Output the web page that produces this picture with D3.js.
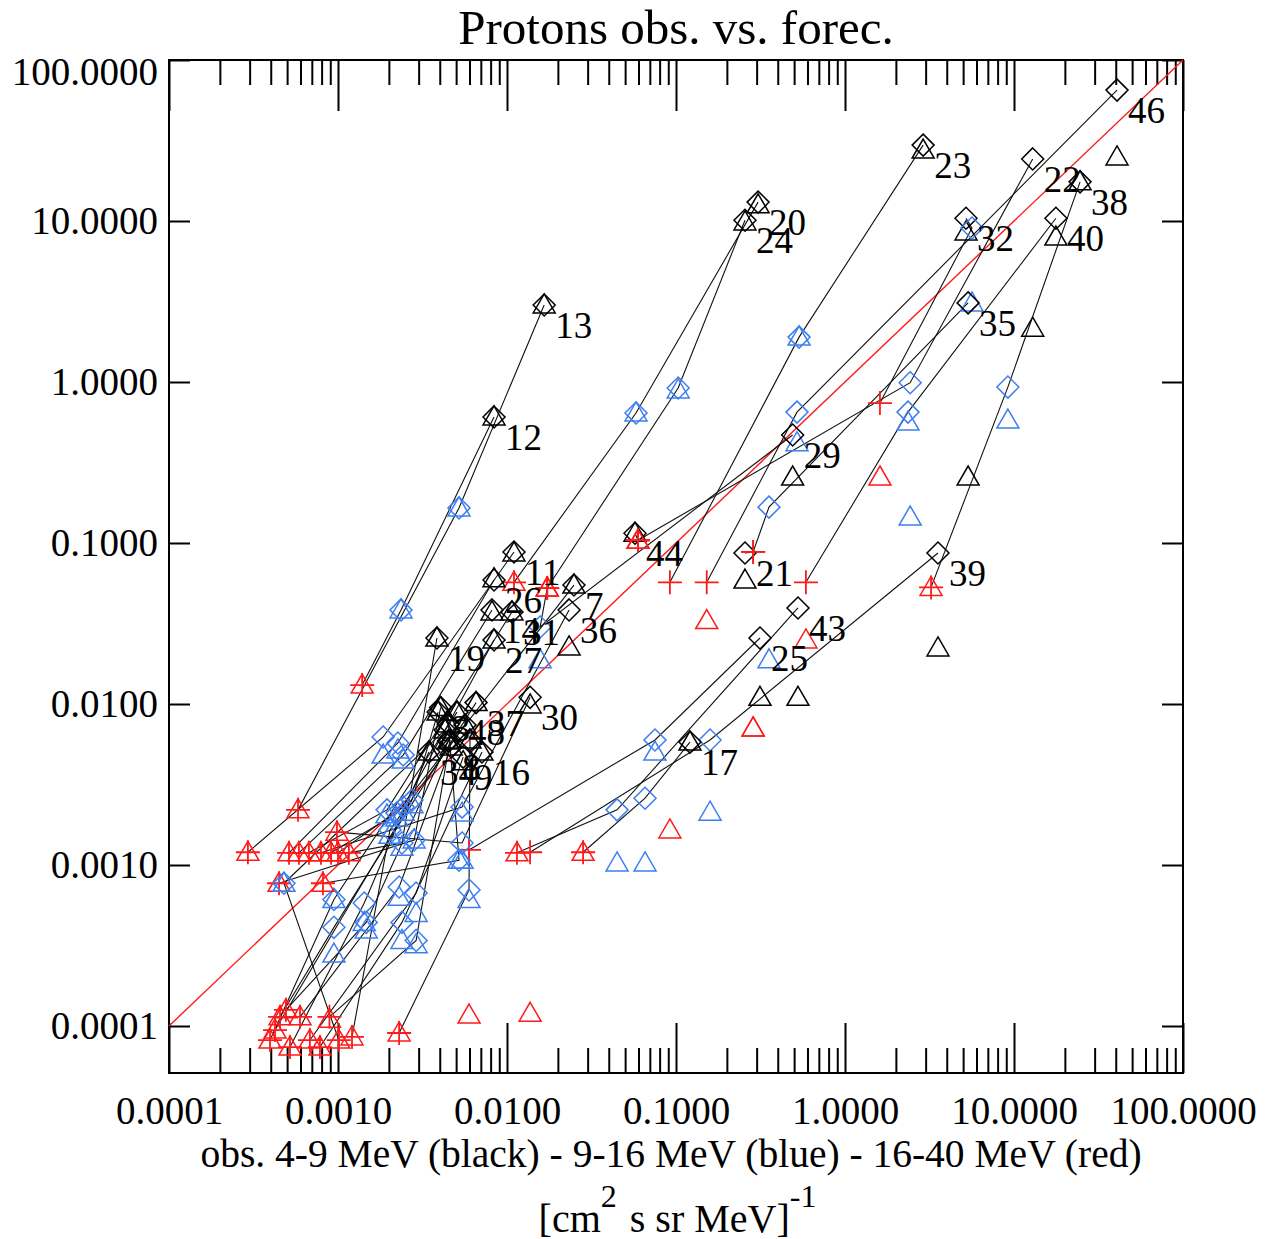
<!DOCTYPE html>
<html><head><meta charset="utf-8">
<script src="https://cdn.jsdelivr.net/npm/d3@7"></script>
<style>body{margin:0;background:#fff}</style>
</head><body>
<svg id="c" width="1274" height="1239" xmlns="http://www.w3.org/2000/svg"></svg>
<script>
// ---------------- data ----------------
// event numbers ("" = event whose number is hidden in the crowd)
const labels   = ["46","22","38","40","32","35","23","20","24","13","12","29","39","17","43","25","21","44",
                  "11","26","14","31","36","7","27","19","30",
                  "3","48","37","34","8","9","16","","","","","","",""];
// obs (x) and forecast (y) of 4-9 MeV channel (black): diamond value, triangle value
const obsBlack = [40.7,12.9,24.6,17.7,5.2,5.35,2.9,0.306,0.256,0.0166,0.00838,0.49,3.55,0.121,0.527,0.314,0.256,0.0572,
                  0.011,0.00838,0.00815,0.0107,0.0233,0.0249,0.00838,0.00385,0.0137,
                  0.00405,0.00506,0.00656,0.00345,0.00467,0.0055,0.00711,0.0046,0.00604,0.0043,0.0045,0.0045,0.00564,0.00391];
const fcBlack  = [65,24.3,17.5,10.4,10.4,3.1,29.6,13.1,10.1,3.01,0.607,0.469,0.0867,0.0058,0.0395,0.0257,0.0867,0.115,
                  0.0879,0.0589,0.0384,0.0373,0.0384,0.0548,0.025,0.0257,0.011,
                  0.0095,0.0089,0.0102,0.00503,0.00541,0.00468,0.00503,0.00598,0.00598,0.0069,0.0075,0.0059,0.00741,0.00891];
const fcBlackT = [25,2.16,17.5,7.95,8.55,0.257,27.6,12.6,9.86,3.01,0.607,0.257,0.0223,0.0058,0.011,0.011,0.0589,0.115,
                  0.0867,0.06,0.0373,0.0373,0.0226,0.0548,0.025,0.0257,0.00986,
                  0.0095,0.0089,0.0102,0.00503,0.00541,0.00438,0.00503,0.00598,0.00598,0.0069,0.0075,0.0059,0.00741,0.00891];
// 9-16 MeV channel (blue)
const obsBlue  = [0.52,2.43,9.2,2.36,5.64,0.355,0.535,0.058,0.103,0.0052,0.00236,0.0157,0.159,0.0656,0.0448,0.0751,null,null,
                  0.00185,0.00226,0.00243,0.00195,0.00542,0.00223,0.00243,0.00239,0.00542,
                  0.00282,0.000946,0.000946,0.00143,0.0023,0.0029,0.00239,0.0029,0.00596,0.000479,0.0052,0.00147,0.00203,0.00274];
const fcBlue   = [0.65,0.99,0.93,0.65,9.05,0.167,1.9,0.642,0.918,0.165,0.0384,0.0301,0.00598,0.0026,0.0022,0.00598,null,null,
                  0.00624,0.00573,0.00482,0.0022,0.00229,0.0021,0.00229,0.00137,0.00137,
                  0.00143,0.00061,0.00041,0.00058,0.00073,0.00067,0.00044,0.00034,0.0007,0.00077,0.00107,0.00044,0.00165,0.00253];
const fcBlueT  = [0.42,0.145,0.58,0.564,3.1,0.0188,1.9,0.642,0.892,0.165,0.0384,0.0188,0.00213,0.00103,0.00103,0.00503,null,null,
                  0.00482,0.00518,0.00449,0.00205,0.0021,0.00196,0.00213,0.00129,0.00107,
                  0.00143,0.00061,0.00028,0.00044,0.00063,0.0005,0.00034,0.00032,0.00061,0.00077,0.00107,0.000395,0.00153,0.00237];
// 16-40 MeV channel (red)
const obsRed   = [0.152,0.0596,3.23,0.587,1.61,0.286,0.092,0.011,0.0173,0.00058,0.00139,0.0173,0.0137,0.0282,0.01146,0.00596,0.286,0.0596,
                  0.000293,0.000513,0.000587,0.000673,0.000793,0.00091,0.001,0.00116,0.000986,
                  0.000448,0.000396,0.000454,0.00052,0.000596,0.000682,0.000782,0.00089,0.0023,0.00101,0.000815,0.000492,0.00121,0.000424];
const fcRed    = [0.057,0.104,0.053,0.057,0.74,0.088,0.057,0.057,0.0525,0.0022,0.0131,0.0525,0.0012,0.0012,0.00119,0.00124,0.088,0.104,
                  0.0012,0.00119,0.00119,0.00119,0.00119,0.00119,0.00119,0.00119,0.0016,
                  0.00077,0.0000818,0.000114,0.000074,0.000114,0.0000818,0.000074,0.000114,0.0000905,0.0000818,0.00077,0.000126,0.0000855,0.0000944];
const fcRedT   = [0.033,0.104,0.053,0.025,0.257,0.0071,0.00165,0.057,0.0525,0.0022,0.0131,0.0525,0.00012,0.0012,0.00119,0.000117,0.0071,0.104,
                  0.0012,0.00119,0.00119,0.00119,0.00119,0.00119,0.00119,0.00119,0.0016,
                  0.00077,0.0000818,0.000114,0.000074,0.000114,0.0000818,0.000074,0.00011,0.0000905,0.0000818,0.00077,0.000126,0.0000855,0.0000944];
const tickValues = [0.0001,0.001,0.01,0.1,1,10,100];
const titleText = "Protons obs. vs. forec.";
const xTitle1 = "obs. 4-9 MeV (black) - 9-16 MeV (blue) - 16-40 MeV (red)";
const unitParts = [["[cm",false],["2",true],["\u00A0s sr MeV]",false],["-1",true]];

// ---------------- drawing ----------------
(function(){
const svg = d3.select("#c");
const FONT = "'Liberation Serif','Times New Roman',serif";
const BLUE = "#3d7ff0", RED = "#ff1a1a";
const x = d3.scaleLog().domain([1e-4,100]).range([169,1183]);
const y = d3.scaleLog().domain([1e-4,100]).range([1026,60]);
const pTop = 60, pBottom = 1073, pLeft = 169, pRight = 1183;

const minor = [];
tickValues.slice(0,-1).forEach(d => { for (let k=2;k<=9;k++) minor.push(d*k); });
const fmt = d3.format(".4f");

function styleAxis(g){ g.select(".domain").remove(); g.selectAll("line").attr("stroke","#000").attr("stroke-width",2); }

svg.append("g").attr("transform",`translate(0,${pBottom})`)
  .call(d3.axisBottom(x).tickValues(minor).tickSize(-25).tickFormat(""))
  .call(styleAxis);
svg.append("g").attr("transform",`translate(0,${pBottom})`)
  .call(d3.axisBottom(x).tickValues(tickValues).tickSizeInner(-50).tickSizeOuter(0).tickPadding(23).tickFormat(fmt))
  .call(styleAxis)
  .call(g=>g.selectAll("text").attr("font-family",FONT).attr("font-size",39).attr("fill","#000"));
svg.append("g").attr("transform",`translate(0,${pTop})`)
  .call(d3.axisTop(x).tickValues(minor).tickSize(-25).tickFormat(""))
  .call(styleAxis);
svg.append("g").attr("transform",`translate(0,${pTop})`)
  .call(d3.axisTop(x).tickValues(tickValues).tickSize(-51).tickFormat(""))
  .call(styleAxis);
svg.append("g").attr("transform",`translate(${pLeft},0)`)
  .call(d3.axisLeft(y).tickValues(tickValues).tickSizeInner(-21).tickSizeOuter(0).tickPadding(11).tickFormat(fmt))
  .call(styleAxis)
  .call(g=>g.selectAll("text").attr("font-family",FONT).attr("font-size",39).attr("fill","#000")
     .attr("transform",d=> d===100 ? "translate(0,12)" : null));
svg.append("g").attr("transform",`translate(${pRight},0)`)
  .call(d3.axisRight(y).tickValues(tickValues).tickSize(-21).tickFormat(""))
  .call(styleAxis);

svg.append("rect").attr("x",pLeft).attr("y",pTop).attr("width",pRight-pLeft).attr("height",pBottom-pTop)
  .attr("fill","none").attr("stroke","#000").attr("stroke-width",2);

svg.append("line").attr("x1",x(1e-4)).attr("y1",y(1e-4)).attr("x2",x(100)).attr("y2",y(100))
  .attr("stroke",RED).attr("stroke-width",1.4);

const plot = svg.append("g");
const line = d3.line().x(d=>x(d[0])).y(d=>y(d[1]));
labels.forEach((lab,i)=>{
  const pts = [[obsBlack[i],fcBlack[i]],[obsBlue[i],fcBlue[i]],[obsRed[i],fcRed[i]]].filter(p=>p[0]!=null && p[1]!=null);
  plot.append("path").attr("d",line(pts)).attr("fill","none").attr("stroke","#111").attr("stroke-width",1.1);
});

const diamond = "M0,-11L11,0L0,11L-11,0Z";
const tri = "M0,-11L11,8L-11,8Z";
const plus = "M-12,0H12M0,-12V12";
function mark(path, xv, yv, color, w){
  if (xv==null || yv==null) return;
  plot.append("path").attr("d",path).attr("transform",`translate(${x(xv)},${y(yv)})`)
    .attr("fill","none").attr("stroke",color).attr("stroke-width",w||1.5);
}
labels.forEach((lab,i)=>{
  mark(tri, obsBlack[i], fcBlackT[i], "#000");
  mark(diamond, obsBlack[i], fcBlack[i], "#000");
  mark(tri, obsBlue[i], fcBlueT[i], BLUE);
  mark(diamond, obsBlue[i], fcBlue[i], BLUE);
  mark(tri, obsRed[i], fcRedT[i], RED);
  mark(plus, obsRed[i], fcRed[i], RED, 1.8);
});
labels.forEach((lab,i)=>{
  if (!lab) return;
  plot.append("text").attr("x",x(obsBlack[i])+11).attr("y",y(fcBlack[i])+33)
    .attr("font-family",FONT).attr("font-size",37).attr("fill","#000").text(lab);
});

svg.append("text").attr("x",676).attr("y",44).attr("text-anchor","middle")
  .attr("font-family",FONT).attr("font-size",49).text(titleText);
svg.append("text").attr("x",671).attr("y",1167).attr("text-anchor","middle")
  .attr("font-family",FONT).attr("font-size",39.5).text(xTitle1);

// unit line built from separate text pieces (superscripts raised)
const unitG = svg.append("g");
let cx = 0;
unitParts.forEach(([s,sup])=>{
  const t = unitG.append("text").attr("font-family",FONT).attr("font-size",sup?32:40)
    .attr("x",cx).attr("y",sup?1207:1232).text(s);
  cx += t.node().getComputedTextLength() + (sup?3:0);
});
unitG.attr("transform",`translate(${679 - cx/2},0)`);
})();
</script>
</body></html>
